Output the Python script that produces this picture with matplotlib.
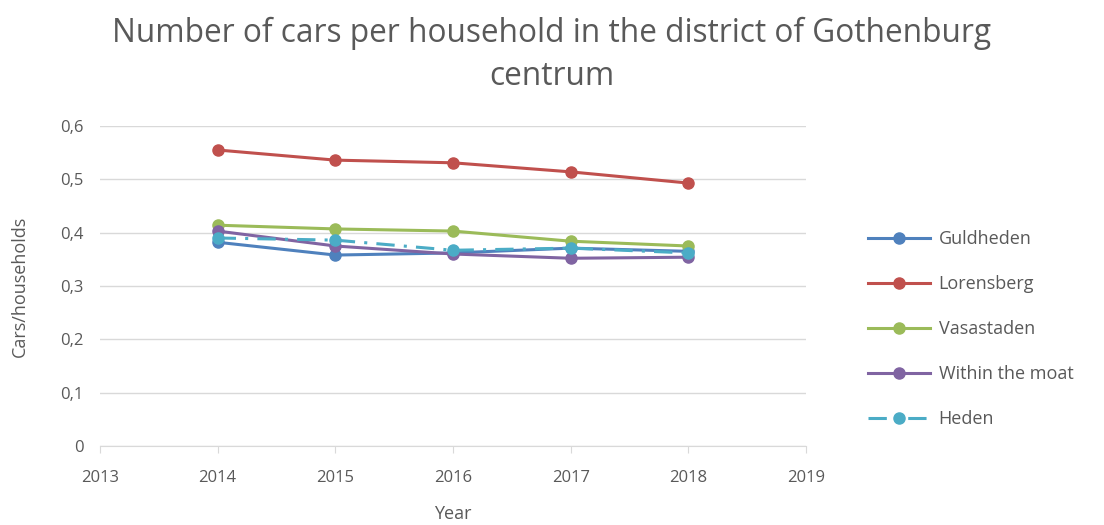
import matplotlib
matplotlib.use("Agg")
import matplotlib.pyplot as plt
from matplotlib.ticker import FuncFormatter

years = [2014, 2015, 2016, 2017, 2018]
guldheden = [0.382, 0.358, 0.362, 0.371, 0.365]
lorensberg = [0.555, 0.536, 0.531, 0.514, 0.493]
vasastaden = [0.414, 0.407, 0.403, 0.384, 0.375]
within_moat = [0.403, 0.375, 0.360, 0.352, 0.354]
heden = [0.390, 0.386, 0.367, 0.371, 0.362]

series = [
    ("Guldheden", guldheden, "#4F81BD", "-"),
    ("Lorensberg", lorensberg, "#C0504D", "-"),
    ("Vasastaden", vasastaden, "#9BBB59", "-"),
    ("Within the moat", within_moat, "#8064A2", "-"),
    ("Heden", heden, "#4BACC6", (0, (6, 3, 1, 3))),
]

plt.rcParams["font.family"] = ["Open Sans", "DejaVu Sans"]
txt = "#595959"

fig = plt.figure(figsize=(11.04, 5.25), dpi=100)
ax = fig.add_axes([100 / 1104, 1 - 446 / 525, 706 / 1104, 320 / 525])

for name, vals, col, ls in series:
    ax.plot(years, vals, color=col, ls=ls, lw=2.2, marker="o", ms=8, label=name)

ax.set_xlim(2013, 2019)
ax.set_ylim(0, 0.6)
ax.set_xticks(range(2013, 2020))
ax.set_yticks([0, 0.1, 0.2, 0.3, 0.4, 0.5, 0.6])
ax.yaxis.set_major_formatter(FuncFormatter(lambda v, p: "0" if v == 0 else f"{v:.1f}".replace(".", ",")))
ax.grid(True, axis="y", color="#d9d9d9", lw=1)
ax.set_axisbelow(True)
for s in ["top", "right", "left"]:
    ax.spines[s].set_visible(False)
ax.spines["bottom"].set_color("#d9d9d9")
ax.tick_params(length=0, labelsize=12, colors=txt, pad=12)
ax.tick_params(axis="x", length=5, color="#d9d9d9", direction="out")

ax.set_xlabel("Year", fontsize=13, color=txt, labelpad=14)
ax.set_ylabel("Cars/households", fontsize=13, color=txt, labelpad=22)

fig.text(0.5, 0.895, "Number of cars per household in the district of Gothenburg\ncentrum",
         ha="center", va="center", fontsize=22.8, color=txt, linespacing=1.4)

leg = ax.legend(loc="center left", bbox_to_anchor=(1.065, 0.365), frameon=False,
                fontsize=13, labelspacing=1.5, handlelength=3.4, handletextpad=0.5)
for t in leg.get_texts():
    t.set_color(txt)

fig.savefig("out.png", dpi=100)
